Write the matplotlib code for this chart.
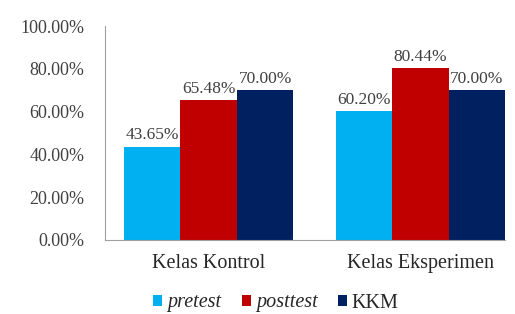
import matplotlib
matplotlib.use("Agg")
import matplotlib.pyplot as plt
import numpy as np
from matplotlib.ticker import FuncFormatter

categories = ["Kelas Kontrol", "Kelas Eksperimen"]
series_names = ["pretest", "posttest", "KKM"]
pretest = [43.65, 60.20]
posttest = [65.48, 80.44]
kkm = [70.00, 70.00]
colors = ["#00B0F0", "#C00000", "#002060"]

plt.rcParams['font.family'] = ['Liberation Serif', 'DejaVu Serif']

fig = plt.figure(figsize=(5.15, 3.14), dpi=100)
ax = fig.add_axes([105/515, 1-240/314, 400/515, 214/314])

x = np.arange(len(categories))
w = 0.267
data = [pretest, posttest, kkm]
for i, (vals, c, name) in enumerate(zip(data, colors, series_names)):
    pos = x + (i - 1) * w
    ax.bar(pos, vals, width=w, color=c, label=name, zorder=2)
    for p, v in zip(pos, vals):
        ax.text(p, v + 1.5, f"{v:.2f}%", ha="center", va="bottom",
                fontsize=12.5, color="#404040")

ax.set_ylim(0, 100)
ax.set_xlim(-0.49, 1.40)
ax.set_yticks(np.arange(0, 101, 20))
ax.yaxis.set_major_formatter(FuncFormatter(lambda v, p: f"{v:.2f}%"))
ax.set_xticks(x)
ax.set_xticklabels(categories, fontsize=14.5, color="#262626")
ax.tick_params(axis='y', length=0, labelsize=13, labelcolor="#404040", pad=15)
ax.tick_params(axis='x', length=0, pad=10)
for s in ["top", "right"]:
    ax.spines[s].set_visible(False)
ax.spines["left"].set_color("#A0A0A0")
ax.spines["bottom"].set_color("#A0A0A0")

handles, labels = ax.get_legend_handles_labels()
leg = fig.legend(handles, labels, loc="center", bbox_to_anchor=(276/515, 1-303/314),
                 ncol=3, frameon=False, fontsize=14.5, handlelength=0.45, handleheight=0.45,
                 handletextpad=0.25, columnspacing=1.0, borderpad=0)
for t in leg.get_texts():
    t.set_color("#262626")
    if t.get_text() != "KKM":
        t.set_fontstyle("italic")

fig.savefig("out.png", dpi=100)
